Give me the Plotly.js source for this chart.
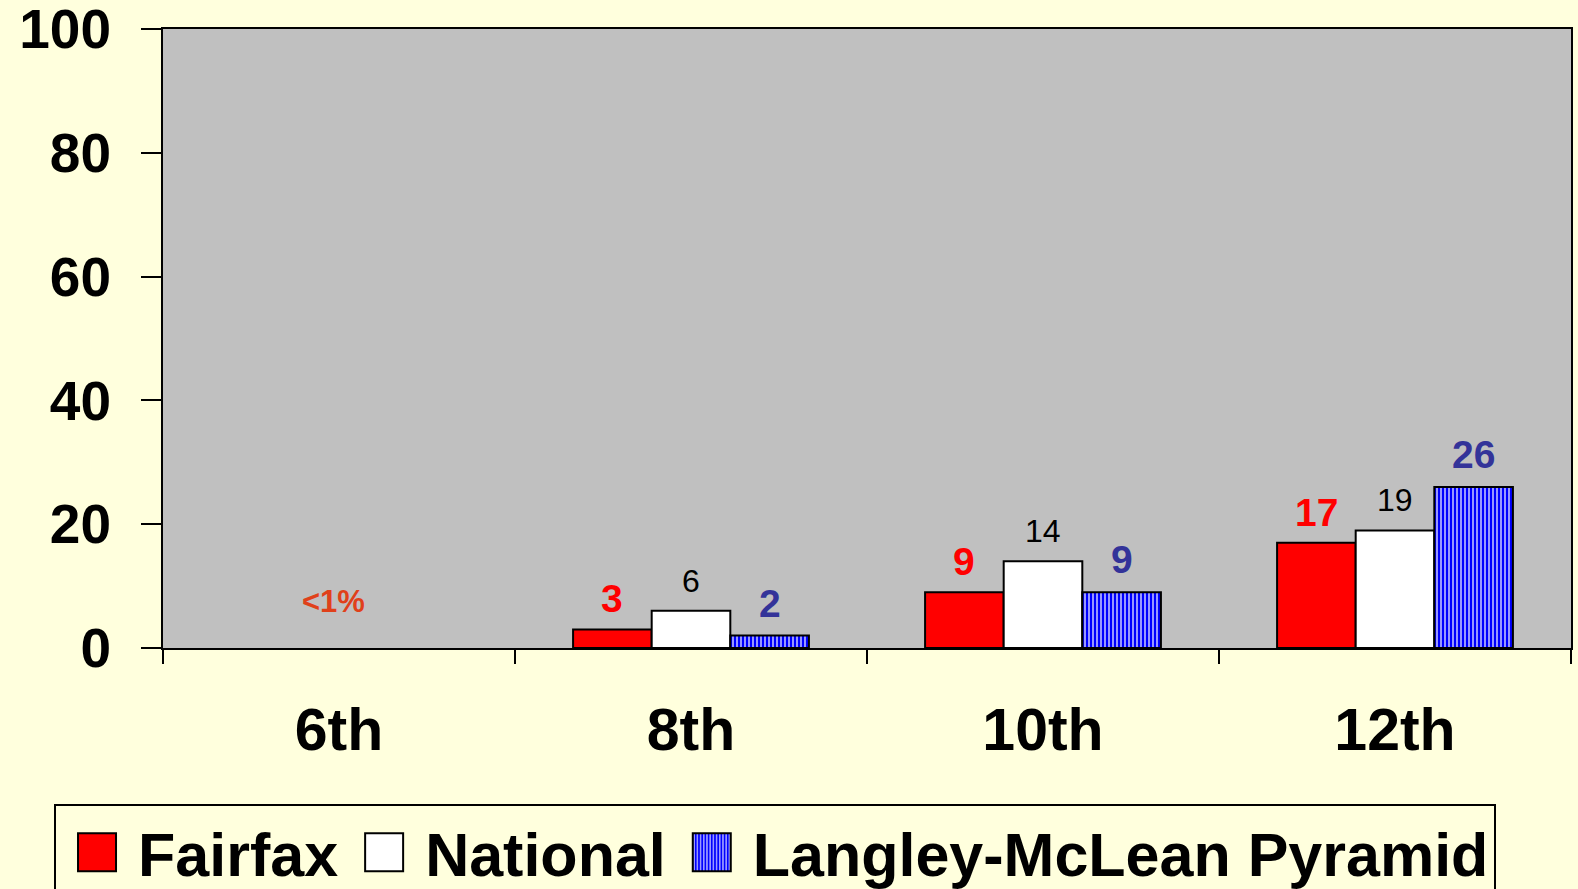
<!DOCTYPE html>
<html>
<head>
<meta charset="utf-8">
<script src="https://cdn.plot.ly/plotly-3.0.1.min.js"></script>
<style>
html,body{margin:0;padding:0;background:#FFFFDD;}
#chart{width:1578px;height:889px;}
</style>
</head>
<body>
<div id="chart"></div>
<script>
// ---- data ----
const categories = ['6th', '8th', '10th', '12th'];
const fairfax  = [null, 3, 9, 17];
const national = [null, 6, 14, 19];
const langley  = [null, 2, 9, 26];
const seriesNames = ['Fairfax', 'National', 'Langley-McLean Pyramid'];
const note6th = '&lt;1%';

// ---- style ----
const FONT = 'Liberation Sans, Arial, sans-serif';
const bargap = 0.33;
const barW = (1 - bargap) / 3;
const legendSwatchHalf = 19;

const seriesValues = [fairfax, national, langley];
const labelStyles = [
  {color: '#FF0000', size: 39, bold: true, shift: 7},
  {color: '#000000', size: 32, bold: false, shift: 10},
  {color: '#333399', size: 39, bold: true, shift: 9}
];

const traces = [
  {
    type: 'bar', name: seriesNames[0], x: categories, y: fairfax,
    marker: {color: '#FF0000', line: {color: '#000000', width: 2}}
  },
  {
    type: 'bar', name: seriesNames[1], x: categories, y: national,
    marker: {color: '#FFFFFF', line: {color: '#000000', width: 2}}
  },
  {
    type: 'bar', name: seriesNames[2], x: categories, y: langley,
    marker: {
      color: '#0000FF',
      line: {color: '#000000', width: 2},
      pattern: {shape: '|', fgcolor: '#FFFFFF', bgcolor: '#0000FF', size: 4, solidity: 0.3, fillmode: 'replace'}
    }
  }
];

const annotations = [];
seriesValues.forEach((vals, s) => {
  vals.forEach((v, i) => {
    if (v === null) return;
    const st = labelStyles[s];
    annotations.push({
      x: i + (s - 1) * barW, y: v, xref: 'x', yref: 'y',
      text: st.bold ? '<b>' + v + '</b>' : String(v),
      showarrow: false, yanchor: 'bottom', yshift: st.shift,
      font: {family: FONT, size: st.size, color: st.color}
    });
  });
});
annotations.push({
  x: 0, y: 0, xref: 'x', yref: 'y', text: '<b>' + note6th + '</b>',
  showarrow: false, yanchor: 'bottom', yshift: 27, xshift: -6,
  font: {family: FONT, size: 31, color: '#E0401A'}
});

const layout = {
  width: 1578, height: 889,
  paper_bgcolor: '#FFFFDD',
  plot_bgcolor: '#C0C0C0',
  margin: {l: 163, r: 7, t: 29, b: 241, pad: 0, autoexpand: false},
  barmode: 'group',
  bargap: bargap,
  bargroupgap: 0,
  showlegend: true,
  font: {family: FONT, color: '#000000'},
  xaxis: {
    type: 'category',
    showline: true, linecolor: '#000000', linewidth: 2, mirror: true,
    ticks: 'outside', tickson: 'boundaries', ticklen: 14, tickwidth: 2, tickcolor: '#000000',
    tickfont: {family: FONT, size: 59, color: '#000000', weight: 'bold'},
    ticklabelstandoff: 29,
    showgrid: false, zeroline: false, automargin: false
  },
  yaxis: {
    range: [0, 100], dtick: 20, tick0: 0,
    showline: true, linecolor: '#000000', linewidth: 2, mirror: true,
    ticks: 'outside', ticklen: 20, tickwidth: 2, tickcolor: '#000000',
    tickfont: {family: FONT, size: 55, color: '#000000', weight: 'bold'},
    ticklabelstandoff: 19, ticklabeloverflow: 'allow',
    showgrid: false, zeroline: false, automargin: false
  },
  legend: {
    orientation: 'h',
    xref: 'paper', yref: 'paper',
    x: -0.0774, xanchor: 'left',
    y: -0.252, yanchor: 'top',
    bgcolor: '#FFFFDD',
    bordercolor: '#000000', borderwidth: 2,
    itemwidth: 72,
    font: {family: FONT, size: 61, color: '#000000', weight: 'bold'},
    itemclick: false, itemdoubleclick: false
  },
  annotations: annotations
};

Plotly.newPlot('chart', traces, layout, {displayModeBar: false, staticPlot: true}).then(gd => {
  // enlarge the legend swatches to match the reference's large squares
  const h = legendSwatchHalf;
  gd.querySelectorAll('.legend .legendpoints path').forEach(p => {
    p.setAttribute('d', `M${h},${h}H-${h}V-${h}H${h}Z`);
  });
});
</script>
</body>
</html>
